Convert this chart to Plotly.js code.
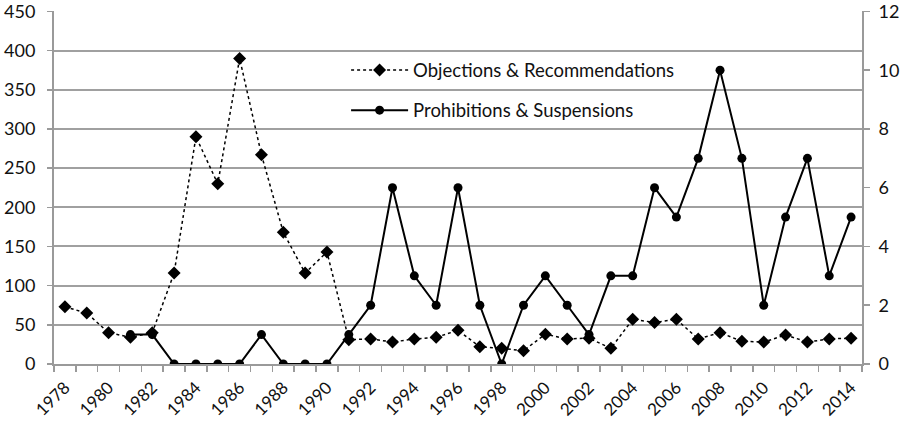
<!DOCTYPE html>
<html>
<head>
<meta charset="utf-8">
<script src="https://cdn.plot.ly/plotly-3.0.1.min.js"></script>
<style>html,body{margin:0;padding:0;background:#fff;}#chart{width:907px;height:424px;}</style>
</head>
<body>
<div id="chart"></div>
<script>
const years = [1978,1979,1980,1981,1982,1983,1984,1985,1986,1987,1988,1989,1990,1991,1992,1993,1994,1995,1996,1997,1998,1999,2000,2001,2002,2003,2004,2005,2006,2007,2008,2009,2010,2011,2012,2013,2014];
const objections = [73,65,40,34,40,116,290,230,390,267,168,116,143,31,32,28,32,34,43,22,20,17,38,32,33,20,57,53,57,32,40,29,28,37,28,32,33];
const prohibitions = [null,null,null,1,1,0,0,0,0,1,0,0,0,1,2,6,3,2,6,2,0,2,3,2,1,3,3,6,5,7,10,7,2,5,7,3,5];
const yearLabels = [1978,1980,1982,1984,1986,1988,1990,1992,1994,1996,1998,2000,2002,2004,2006,2008,2010,2012,2014];
const leftTicks = [0,50,100,150,200,250,300,350,400,450];
const rightTicks = [0,2,4,6,8,10,12];

const FONT = 'Lato, "Open Sans", sans-serif';
const TOP = 1.0012;
const traces = [
  {x: years, y: objections, name: 'Objections & Recommendations', type: 'scatter', mode: 'lines+markers',
   line: {color: '#000', width: 1.5, dash: 'dot'}, marker: {symbol: 'diamond', size: 10, color: '#000'},
   yaxis: 'y', legendgroup: 'a'},
  {x: years, y: prohibitions, name: 'Prohibitions & Suspensions', type: 'scatter', mode: 'lines+markers',
   line: {color: '#000', width: 2}, marker: {symbol: 'circle', size: 9, color: '#000'},
   yaxis: 'y2', legendgroup: 'b', connectgaps: false}
];
const layout = {
  width: 907, height: 424,
  margin: {l: 54, r: 45, t: 11, b: 60},
  paper_bgcolor: '#fff', plot_bgcolor: '#fff',
  font: {family: FONT, size: 18, color: '#111'},
  showlegend: true,
  legend: {x: 0.3615, y: 0.885, xanchor: 'left', yanchor: 'top', bgcolor: 'rgba(0,0,0,0)',
           font: {family: FONT, size: 18.5, color: '#111'}, tracegroupgap: 13, itemwidth: 57},
  xaxis: {range: [1977.5, 2014.5], tickvals: yearLabels, ticktext: yearLabels.map(String),
          tickangle: -45, ticks: '', showgrid: false, zeroline: false,
          showline: true, linecolor: '#9a9a9a', linewidth: 2, ticklabelstandoff: 5,
          minor: {tick0: 1977.5, dtick: 1, ticks: 'outside', ticklen: 6, tickcolor: '#9a9a9a', tickwidth: 1.5, showgrid: false},
          tickfont: {family: FONT, size: 17, color: '#111'}},
  yaxis: {range: [0, 450 * TOP], tickvals: leftTicks, ticks: 'outside', ticklen: 5, tickcolor: '#9a9a9a', tickwidth: 1.5,
          showgrid: true, gridcolor: '#a0a0a0', gridwidth: 2, zeroline: false, ticklabeloverflow: 'allow',
          showline: true, linecolor: '#9a9a9a', linewidth: 2, ticklabelstandoff: 8,
          tickfont: {family: FONT, size: 18, color: '#111'}},
  yaxis2: {range: [0, 12 * TOP], tickvals: rightTicks, overlaying: 'y', side: 'right', ticks: 'outside', ticklen: 6,
           tickcolor: '#9a9a9a', tickwidth: 1.5, showgrid: false, zeroline: false, ticklabeloverflow: 'allow',
           showline: true, linecolor: '#9a9a9a', linewidth: 2, ticklabelstandoff: 5,
           tickfont: {family: FONT, size: 18, color: '#111'}}
};
Plotly.newPlot('chart', traces, layout, {displayModeBar: false, staticPlot: true});
</script>
</body>
</html>
